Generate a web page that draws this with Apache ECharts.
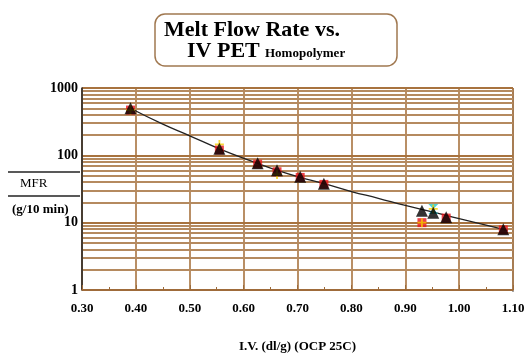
<!DOCTYPE html>
<html><head><meta charset="utf-8">
<script src="https://cdn.jsdelivr.net/npm/echarts@6/dist/echarts.min.js"></script>
<style>html,body{margin:0;padding:0;background:#fff}#c{width:528px;height:358px}</style>
</head><body><div id="c"></div>
<script>
// Data
const ivMain = [0.39, 0.555, 0.626, 0.662, 0.705, 0.749, 0.931, 0.952, 0.976, 1.082];
const mfrMain = [500, 125, 76, 60, 48, 38, 15, 14, 12, 8];
const redPts = [[0.39, 470], [0.555, 120], [0.626, 74], [0.662, 57], [0.705, 47], [0.749, 37], [0.931, 10], [0.976, 11.7], [1.082, 7.8]];
const yellowPts = [[0.39, 470], [0.555, 145], [0.662, 52], [0.931, 10], [0.952, 16]];
const cyanPts = [[0.952, 16]];
const fitIV = [0.39, 0.45, 0.50, 0.555, 0.626, 0.662, 0.705, 0.749, 0.80, 0.85, 0.90, 0.95, 1.00, 1.05, 1.09];
const fitMFR = [500, 290, 195, 125, 76, 60, 47, 38, 29, 23, 18, 14.5, 11.5, 9.2, 7.7];
const minorLevels = [2,3,4,5,6,7,8,9,20,30,40,50,60,70,80,90,200,300,400,500,600,700,800,900];
const xTicks = ['0.30','0.40','0.50','0.60','0.70','0.80','0.90','1.00','1.10'];
const yTicks = {1: '1', 10: '10', 100: '100', 1000: '1000'};

const serif = '"Liberation Serif","DejaVu Serif",serif';
const chart = echarts.init(document.getElementById('c'));
chart.setOption({
  animation: false,
  grid: {left: 82, right: 15, top: 88, bottom: 66},
  xAxis: {
    type: 'value', min: 0.3, max: 1.1, interval: 0.1,
    name: 'I.V. (dl/g) (OCP 25C)', nameLocation: 'middle', nameGap: 50,
    nameTextStyle: {fontFamily: serif, fontWeight: 'bold', fontSize: 13, color: '#000'},
    axisLine: {lineStyle: {color: '#9c6a3a', width: 1.5}},
    axisTick: {inside: true, length: 5, lineStyle: {color: '#9c6a3a'}},
    minorTick: {show: true, splitNumber: 2, length: 3, lineStyle: {color: '#9c6a3a'}},
    axisLabel: {fontFamily: serif, fontWeight: 'bold', fontSize: 13, color: '#000', margin: 12,
      formatter: v => xTicks[Math.round((v - 0.3) * 10)] || v.toFixed(2)},
    splitLine: {show: true, lineStyle: {color: '#a8733f', width: 1.6}}
  },
  yAxis: {
    type: 'log', min: 1, max: 1000, logBase: 10,
    axisLine: {show: true, lineStyle: {color: '#222', width: 1.5}},
    axisTick: {show: false},
    axisLabel: {fontFamily: serif, fontWeight: 'bold', fontSize: 14, color: '#000', margin: 4,
      formatter: v => yTicks[Math.round(v)] || String(v)},
    splitLine: {show: true, lineStyle: {color: '#a8733f', width: 1.8}}
  },
  graphic: [
    {type: 'rect', shape: {x: 155, y: 14, width: 242, height: 52, r: 10}, style: {fill: '#fff', stroke: '#a07850', lineWidth: 1.5}},
    {type: 'text', left: 164, top: 19, style: {text: 'Melt Flow Rate vs.', font: 'bold 22px ' + serif, fill: '#000'}},
    {type: 'text', left: 187, top: 40, style: {text: 'IV PET', font: 'bold 22px ' + serif, fill: '#000'}},
    {type: 'text', left: 265, top: 47, style: {text: 'Homopolymer', font: 'bold 13px ' + serif, fill: '#000'}},
    {type: 'line', shape: {x1: 8, y1: 172, x2: 80, y2: 172}, style: {stroke: '#222', lineWidth: 1.3}},
    {type: 'line', shape: {x1: 8, y1: 196, x2: 80, y2: 196}, style: {stroke: '#222', lineWidth: 1.3}},
    {type: 'text', left: 20, top: 177, style: {text: 'MFR', font: '13px ' + serif, fill: '#000'}},
    {type: 'text', left: 12, top: 203, style: {text: '(g/10 min)', font: 'bold 13px ' + serif, fill: '#000'}},
    {type: 'line', shape: {x1: 513, y1: 88, x2: 513, y2: 292}, style: {stroke: '#888', lineWidth: 1.5}}
  ],
  series: [
    {type: 'line', data: [], silent: true, z: 0, zlevel: 0,
     markLine: {symbol: 'none', silent: true, label: {show: false}, z: 0,
       lineStyle: {color: '#b58a5f', width: 1.8, type: 'solid'},
       data: minorLevels.map(v => ({yAxis: v}))}},
    {type: 'line', smooth: true, symbol: 'none', z: 10, data: fitIV.map((x, i) => [x, fitMFR[i]]),
     lineStyle: {color: '#222', width: 1.3}},
    {type: 'scatter', symbol: 'rect', symbolSize: 9, z: 11, data: redPts, itemStyle: {color: '#e8141a'}},
    {type: 'scatter', symbol: 'path://M0,0L10,0L5,5ZM5,5L10,10L0,10Z', symbolSize: 10, z: 12, data: cyanPts, itemStyle: {color: '#20c8d0'}},
    {type: 'scatter', symbol: 'path://M4,0H6V4H10V6H6V10H4V6H0V4H4Z', symbolSize: 9, z: 13, data: yellowPts, itemStyle: {color: '#f5d000'}},
    {type: 'scatter', symbol: 'triangle', symbolSize: 12, z: 14, data: ivMain.map((x, i) => [x, mfrMain[i]]), itemStyle: {color: '#000'}}
  ]
});
</script></body></html>
